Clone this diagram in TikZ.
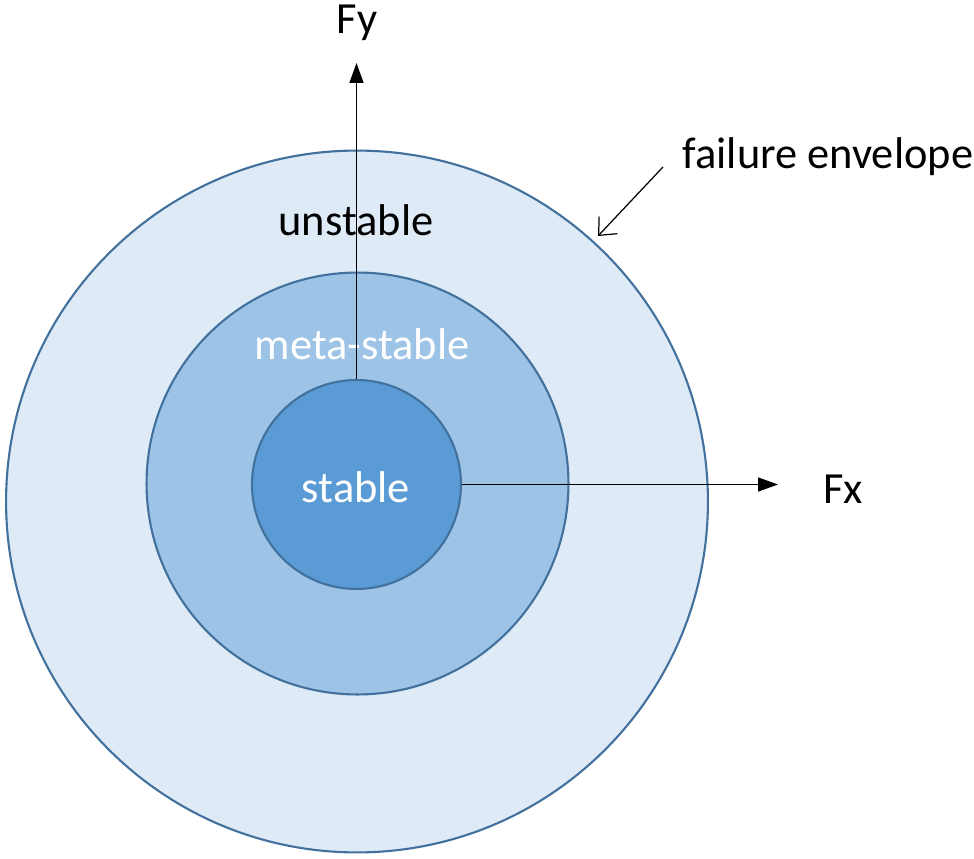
\documentclass[tikz,border=0pt]{standalone}
\usepackage{fontspec}
\setmainfont{Carlito}
\usetikzlibrary{arrows.meta,positioning,calc}
\definecolor{zoneborder}{HTML}{41719C}
\definecolor{zoneouter}{HTML}{DEEBF7}
\definecolor{zonemid}{HTML}{9DC3E6}
\definecolor{zoneinner}{HTML}{5B9BD5}

\begin{document}
\begin{tikzpicture}[
  x=0.02cm, y=-0.02cm,
  zone/.style={circle, draw=zoneborder, line width=1.2pt, inner sep=0pt},
  lbl/.style={font=\fontsize{25.3}{30}\selectfont, inner sep=0pt},
  axis/.style={-{Triangle[length=4mm, width=2.8mm]}, line width=0.85pt, black},
  pointer/.style={-{Straight Barb[length=2.8mm, width=5mm]}, line width=0.7pt, black},
]
  \useasboundingbox (0,0) rectangle (974,859);

  \node[zone, fill=zoneouter, minimum size=14.04cm] (envelope) at (357,501.5) {};
  \node[zone, fill=zonemid, minimum size=8.44cm] (meta) at (357.5,483.5) {};
  \node[zone, fill=zoneinner, minimum size=4.18cm] (core) at (356.5,484.5) {};

  \node[lbl, white] (stab) at (356,487) {stable};
  \node[lbl, white] (metalbl) at (362,344) {meta-stable};
  \node[lbl] (unstab) at (356,220) {unstable};

  \coordinate (ytip) at (356.5,63);
  \coordinate (xtip) at (778,484.5);
  \draw[axis] (core.north) -- (ytip);
  \draw[axis] (core.east) -- (xtip);

  \node[lbl] (fy) at (357,23) {Fy};
  \node[lbl] (fx) at (843,489) {Fx};

  \node[lbl] (fail) at (828,157) {failure envelope};
  \coordinate (failstart) at (663,167);
  \coordinate (failend) at (598,236);
  \draw[pointer] (failstart) -- (failend);
\end{tikzpicture}
\end{document}
